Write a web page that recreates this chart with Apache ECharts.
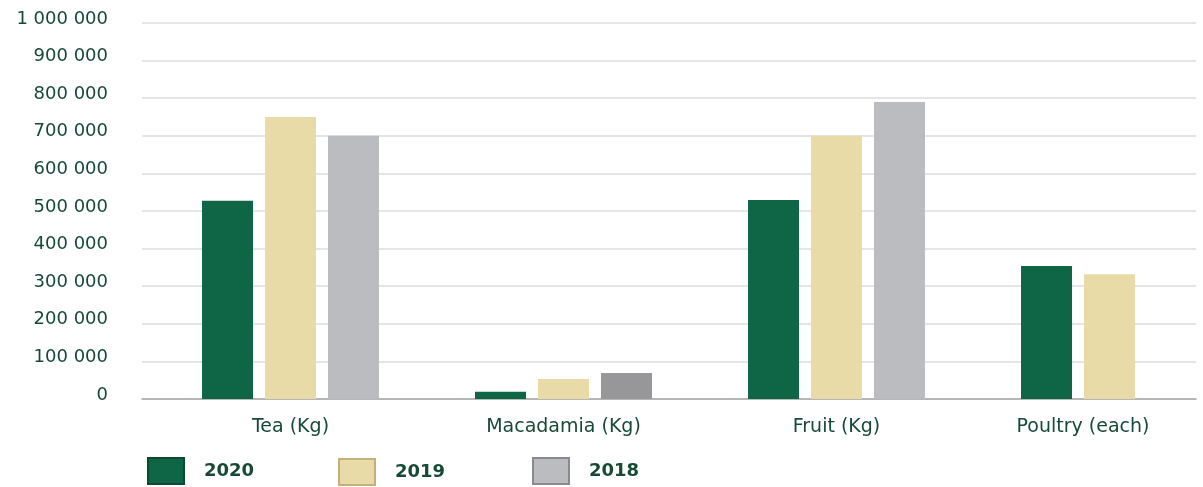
<!DOCTYPE html>
<html>
<head>
<meta charset="utf-8">
<script src="https://cdn.jsdelivr.net/npm/echarts@6/dist/echarts.min.js"></script>
<style>html,body{margin:0;padding:0;background:#fff}#c{width:1203px;height:487px}</style>
</head>
<body>
<div id="c"></div>
<script>
const categories = ['Tea (Kg)', 'Macadamia (Kg)', 'Fruit (Kg)', 'Poultry (each)'];
const s2020 = [527000, 19000, 529000, 354000];
const s2019 = [750000, 53000, 700000, 332000];
const s2018 = [700000, 69000, 790000, null];
const seriesNames = ['2020', '2019', '2018'];

const TXT = '#174a36';
const FONT = 'DejaVu Sans';
const C2020 = '#0e6647', C2019 = '#e8dba7', C2018 = '#bbbcbf', C2018dark = '#97979a';

function fmt(v){ return '{a|' + String(v).replace(/\B(?=(\d{3})+(?!\d))/g, ' ') + '}'; }

const chart = echarts.init(document.getElementById('c'), null, {renderer:'canvas'});
const legendBase = {
  top: 457, padding: 0, itemWidth: 36, itemHeight: 26, icon: 'rect', selectedMode: false,
  textStyle: {color: TXT, fontFamily: FONT, fontWeight: 'bold', fontSize: 18, padding: [0,0,0,15]}
};
chart.setOption({
  animation: false,
  grid: [
    {left: 142, right: 7, top: 23, bottom: 88, outerBoundsMode: 'none'},
    {left: 154, width: 1092, top: 23, bottom: 88, outerBoundsMode: 'none'}
  ],
  legend: [
    Object.assign({}, legendBase, {left: 147, data: [{name: '2020', itemStyle: {borderColor: '#0a4a33', borderWidth: 2}}]}),
    Object.assign({}, legendBase, {left: 338, top: 458, data: [{name: '2019', itemStyle: {borderColor: '#c2b279', borderWidth: 2}}]}),
    Object.assign({}, legendBase, {left: 532, data: [{name: '2018', itemStyle: {borderColor: '#8a8a8c', borderWidth: 2}}]})
  ],
  xAxis: [
    {type: 'category', gridIndex: 0, data: categories,
     axisLine: {lineStyle: {color: '#a7a7a7', width: 1.5}}, axisTick: {show: false}, axisLabel: {show: false}},
    {type: 'category', gridIndex: 1, data: categories.map((c, i) => i === 3 ? {value: c, textStyle: {padding: [0, 53, 0, 0]}} : c),
     axisLine: {show: false}, axisTick: {show: false},
     axisLabel: {color: TXT, fontFamily: FONT, fontSize: 19, margin: 19}}
  ],
  yAxis: [
    {type: 'value', gridIndex: 0, min: 0, max: 1000000, interval: 100000,
     axisLine: {show: false}, axisTick: {show: false},
     splitLine: {lineStyle: {color: '#dcdcdc', width: 1.5}},
     axisLabel: {color: TXT, fontFamily: FONT, fontSize: 18, margin: 34, formatter: fmt,
       rich: {a: {color: TXT, fontFamily: FONT, fontSize: 18, padding: [0, 0, 8, 0]}}}},
    {type: 'value', gridIndex: 1, min: 0, max: 1000000, show: false, splitLine: {show: false}}
  ],
  series: [
    {name: seriesNames[0], type: 'bar', xAxisIndex: 1, yAxisIndex: 1, data: s2020, barWidth: 51, barGap: '23.5%', itemStyle: {color: C2020}},
    {name: seriesNames[1], type: 'bar', xAxisIndex: 1, yAxisIndex: 1, data: s2019, barWidth: 51, barGap: '23.5%', itemStyle: {color: C2019}},
    {name: seriesNames[2], type: 'bar', xAxisIndex: 1, yAxisIndex: 1, barWidth: 51, barGap: '23.5%', itemStyle: {color: C2018},
     data: s2018.map((v, i) => i === 1 ? {value: v, itemStyle: {color: C2018dark}} : v)}
  ]
});
</script>
</body>
</html>
